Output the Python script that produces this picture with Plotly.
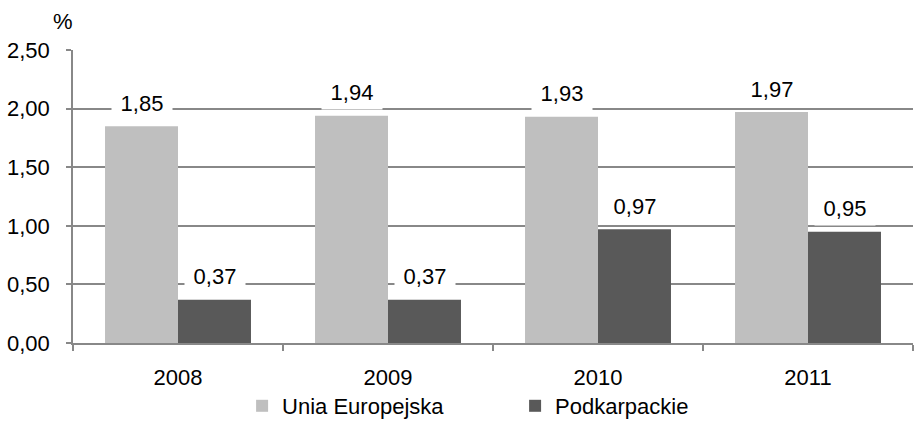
import plotly.graph_objects as go

years = ["2008", "2009", "2010", "2011"]
ue = [1.85, 1.94, 1.93, 1.97]
podk = [0.37, 0.37, 0.97, 0.95]
series_names = ["Unia Europejska", "Podkarpackie"]
colors = ["#BFBFBF", "#595959"]
yticks = [0, 0.5, 1.0, 1.5, 2.0, 2.5]

FONT = "Liberation Sans, Arial, sans-serif"
FS = 22
GRID = "#888888"

fig = go.Figure()
for name, vals, col in zip(series_names, [ue, podk], colors):
    fig.add_trace(go.Bar(x=years, y=vals, name=name, marker=dict(color=col, line=dict(width=0))))

def fmt(v):
    return f"{v:.2f}".replace(".", ",")

# category index of each year on the category axis
for vals, shift in [(ue, -36.5), (podk, 36.5)]:
    for idx, v in enumerate(vals):
        fig.add_annotation(x=idx, y=v, xref="x", yref="y", text=fmt(v), showarrow=False,
                           xshift=shift, yshift=23, bgcolor="white", width=52, borderpad=4,
                           font=dict(family=FONT, size=FS, color="#000000"))

fig.add_annotation(x=0, y=1.0956, xref="paper", yref="paper", text="%", showarrow=False,
                   xanchor="center", yanchor="middle", xshift=-10,
                   font=dict(family=FONT, size=FS, color="#000000"))

fig.update_layout(
    width=915, height=421,
    margin=dict(l=73, r=2, t=50, b=78, autoexpand=False),
    paper_bgcolor="white", plot_bgcolor="white",
    barmode="group", bargap=0.305, bargroupgap=0,
    separators=", ",
    font=dict(family=FONT, size=FS, color="#000000"),
    showlegend=True,
    legend=dict(orientation="h", x=0.2013, xanchor="left", y=-0.215, yanchor="middle",
                font=dict(family=FONT, size=FS), entrywidth=228, entrywidthmode="pixels",
                bgcolor="rgba(0,0,0,0)"),
    xaxis=dict(type="category", showline=True, linecolor=GRID, linewidth=1.5, ticks="outside",
               tickson="boundaries", ticklen=6, tickcolor=GRID, tickwidth=1.5, showgrid=False,
               ticklabelstandoff=14, tickfont=dict(family=FONT, size=FS), automargin=False),
    yaxis=dict(range=[0, 2.5], tickvals=yticks, tickformat=".2f", showline=True, linecolor=GRID,
               linewidth=1.5, ticks="outside", ticklen=5, tickcolor=GRID, tickwidth=1.5,
               showgrid=True, gridcolor=GRID, gridwidth=1.5, zeroline=False, ticklabelstandoff=12,
               tickfont=dict(family=FONT, size=FS), automargin=False),
)

fig.write_html("out.html", config={"displayModeBar": False},
               post_script="document.body.style.margin='0';document.body.style.overflow='hidden';")
